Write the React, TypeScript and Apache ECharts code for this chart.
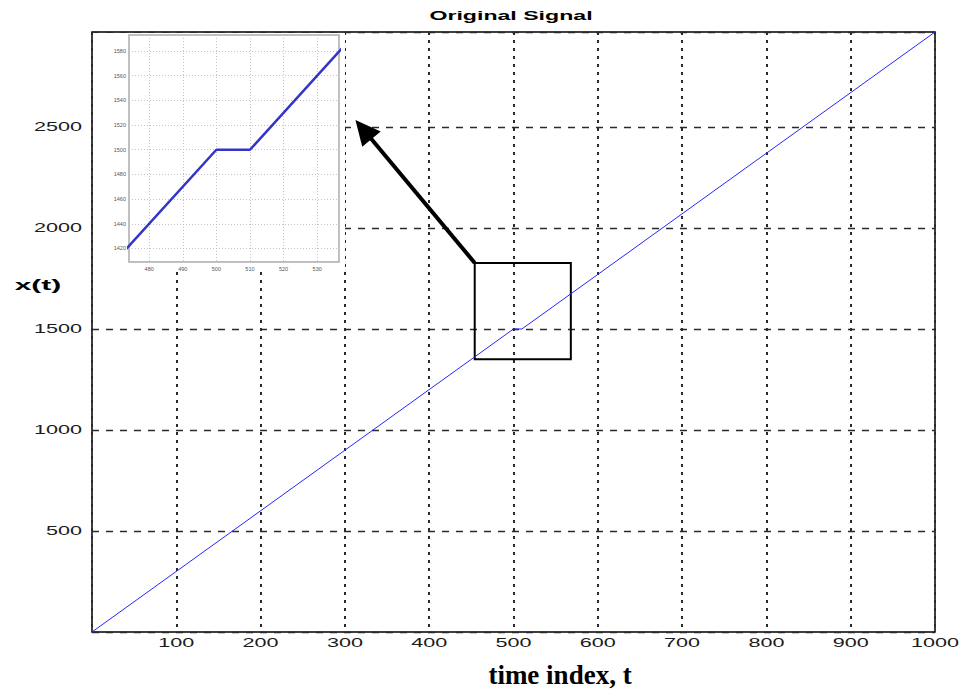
import React, { useEffect, useRef } from "react";
import * as echarts from "echarts";

// Signal x(t): breakpoints of the piecewise-linear ramp with a hold near t = 500
const signalT = [0, 500, 510, 1000];
const signalX = [0, 1500, 1500, 2970];

// Main axes
const tRange = [0, 1000];
const xRange = [0, 2970];
const tTicks = [100, 200, 300, 400, 500, 600, 700, 800, 900, 1000];
const xTicks = [500, 1000, 1500, 2000, 2500];

// Zoomed-in view
const insetTRange = [474, 536.5];
const insetXRange = [1409, 1593];

// Highlighted region and the arrow pointing to the zoomed view
const zoomBoxT = [454, 568];
const zoomBoxX = [1350, 1827];
const arrowFrom = [454, 1827];
const arrowTo = [322, 2487];

const W = 961;
const H = 692;
const TICK_FONT = "Liberation Sans, Arial, sans-serif";

export default function App() {
  const ref = useRef<HTMLDivElement>(null);

  useEffect(() => {
    if (!ref.current) return;
    const chart = echarts.init(ref.current, undefined, { renderer: "svg" });
    const points = signalT.map((t, i) => [t, signalX[i]]);

    const option: any = {
      animation: false,
      backgroundColor: "#fff",
      grid: [
        {
          left: 92,
          top: 32,
          width: 843,
          height: 600,
          show: true,
          borderColor: "#000",
          borderWidth: 1.5,
          backgroundColor: "transparent",
          z: 0,
        },
        {
          left: 129,
          top: 35,
          width: 210,
          height: 227,
          show: true,
          backgroundColor: "#fff",
          borderColor: "#aaa",
          borderWidth: 1.5,
          z: 3,
        },
      ],
      xAxis: [
        {
          type: "value",
          gridIndex: 0,
          min: tRange[0],
          max: tRange[1],
          interval: 100,
          axisLine: { show: false },
          axisTick: { show: false },
          axisLabel: { show: false },
          splitLine: {
            show: true,
            lineStyle: { color: "#2a2a2a", width: 2, type: [3, 5] },
          },
        },
        {
          type: "value",
          gridIndex: 1,
          min: insetTRange[0],
          max: insetTRange[1],
          splitNumber: 6,
          z: 4,
          axisLine: { show: false },
          axisTick: { show: false },
          axisLabel: {
            fontSize: 5.5,
            color: "#555",
            margin: 4,
            showMinLabel: false,
            showMaxLabel: false,
            formatter: (v: number) => String(v),
          },
          splitLine: {
            show: true,
            lineStyle: { color: "#c4c4c4", width: 1, type: [1, 2] },
          },
        },
      ],
      yAxis: [
        {
          type: "value",
          gridIndex: 0,
          min: xRange[0],
          max: xRange[1],
          interval: 500,
          axisLine: { show: false },
          axisTick: { show: false },
          axisLabel: { show: false },
          splitLine: {
            show: true,
            lineStyle: { color: "#2a2a2a", width: 1.3, type: [7, 7] },
          },
        },
        {
          type: "value",
          gridIndex: 1,
          min: insetXRange[0],
          max: insetXRange[1],
          splitNumber: 9,
          z: 4,
          axisLine: { show: false },
          axisTick: { show: false },
          axisLabel: {
            fontSize: 5.5,
            color: "#555",
            margin: 3,
            showMinLabel: false,
            showMaxLabel: false,
            formatter: (v: number) => String(v),
          },
          splitLine: {
            show: true,
            lineStyle: { color: "#c4c4c4", width: 1, type: [1, 2] },
          },
        },
      ],
      series: [
        {
          type: "line",
          xAxisIndex: 0,
          yAxisIndex: 0,
          data: points,
          showSymbol: false,
          lineStyle: { color: "#2626ff", width: 1 },
          z: 2,
          markArea: {
            silent: true,
            label: { show: false },
            itemStyle: {
              color: "rgba(0,0,0,0)",
              borderColor: "#000",
              borderWidth: 2,
            },
            data: [
              [
                { coord: [zoomBoxT[0], zoomBoxX[1]] },
                { coord: [zoomBoxT[1], zoomBoxX[0]] },
              ],
            ],
          },
          markLine: {
            silent: true,
            symbol: ["none", "triangle"],
            symbolSize: [24, 25],
            label: { show: false },
            lineStyle: { color: "#000", width: 4, type: "solid" },
            itemStyle: { color: "#000" },
            data: [[{ coord: arrowFrom }, { coord: arrowTo }]],
          },
        },
        {
          type: "line",
          xAxisIndex: 1,
          yAxisIndex: 1,
          data: points,
          showSymbol: false,
          clip: true,
          z: 5,
          lineStyle: { color: "#3434c8", width: 2.5 },
        },
      ],
    };

    chart.setOption(option);

    // Tick labels are drawn as horizontally stretched text at the axis positions
    const tickText: any[] = [];
    tTicks.forEach((t) => {
      const [px, py] = chart.convertToPixel({ gridIndex: 0 }, [t, xRange[0]]) as number[];
      tickText.push({
        type: "text",
        x: px,
        y: py + 11,
        scaleX: 1.8,
        z: 10,
        style: {
          text: String(t),
          fontFamily: TICK_FONT,
          fontSize: 12,
          fill: "#1c1c1c",
          align: "center",
          verticalAlign: "middle",
        },
      });
    });
    xTicks.forEach((v) => {
      const [px, py] = chart.convertToPixel({ gridIndex: 0 }, [tRange[0], v]) as number[];
      tickText.push({
        type: "text",
        x: px - 10,
        y: py,
        scaleX: 1.8,
        z: 10,
        style: {
          text: String(v),
          fontFamily: TICK_FONT,
          fontSize: 12,
          fill: "#1c1c1c",
          align: "right",
          verticalAlign: "middle",
        },
      });
    });

    chart.setOption({
      graphic: [
        // white backing behind the zoomed view and its labels
        {
          type: "rect",
          z: 1,
          silent: true,
          shape: { x: 93, y: 33, width: 252, height: 239 },
          style: { fill: "#fff" },
        },
        {
          type: "text",
          x: 511,
          y: 16,
          scaleX: 1.85,
          z: 10,
          style: {
            text: "Original Signal",
            fontFamily: TICK_FONT,
            fontWeight: "bold",
            fontSize: 12.5,
            fill: "#000",
            align: "center",
            verticalAlign: "middle",
          },
        },
        {
          type: "text",
          x: 38,
          y: 285,
          scaleX: 2,
          z: 10,
          style: {
            text: "x(t)",
            fontFamily: TICK_FONT,
            fontWeight: "bold",
            fontSize: 15,
            fill: "#000",
            align: "center",
            verticalAlign: "middle",
          },
        },
        {
          type: "text",
          x: 560,
          y: 675,
          z: 10,
          style: {
            text: "time index, t",
            fontFamily: "Liberation Serif, Times New Roman, serif",
            fontWeight: "bold",
            fontSize: 27,
            fill: "#000",
            align: "center",
            verticalAlign: "middle",
          },
        },
        ...tickText,
      ],
    });

    return () => chart.dispose();
  }, []);

  return (
    <div
      ref={ref}
      style={{ position: "fixed", left: 0, top: 0, width: W, height: H, background: "#fff" }}
    />
  );
}
